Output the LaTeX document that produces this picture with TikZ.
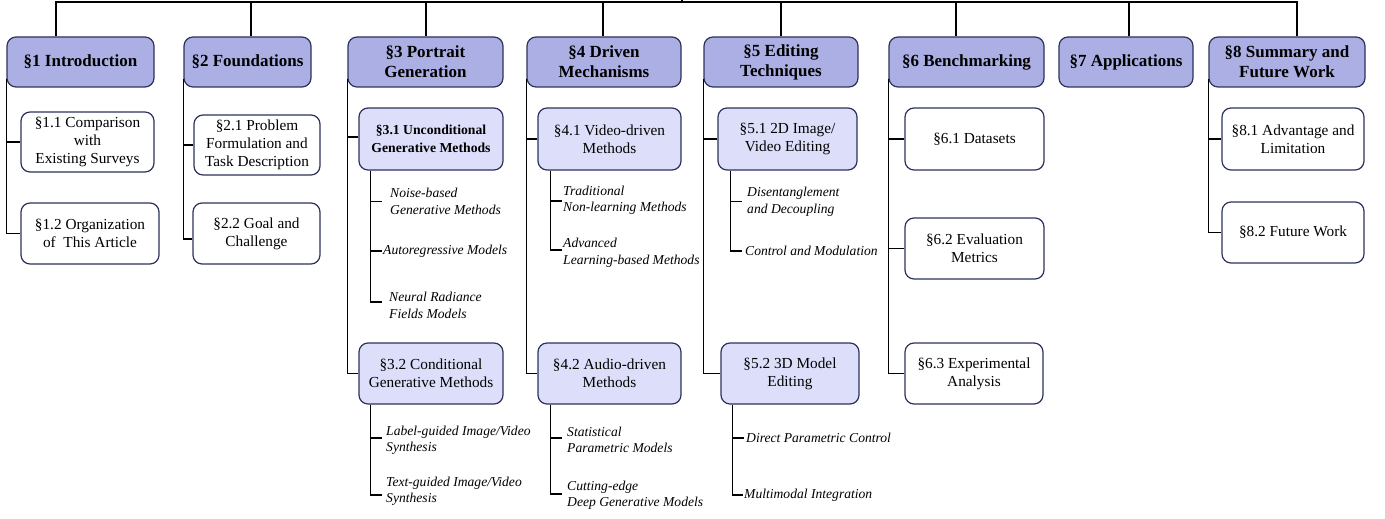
\documentclass[tikz,border=0pt]{standalone}
\usepackage{fontspec}
\setmainfont{Liberation Serif}
\definecolor{bord}{RGB}{44,50,92}
\definecolor{lvone}{RGB}{171,175,227}
\definecolor{lvtwo}{RGB}{221,223,250}
\begin{document}
\begin{tikzpicture}[x=1pt,y=-1pt,
  box/.style={draw=bord, line width=1.2pt, rounded corners=9pt, align=center, inner sep=0pt},
  secbox/.style={box, fill=lvone, font=\fontsize{17}{20}\selectfont\bfseries},
  subbox/.style={box, fill=lvtwo, font=\fontsize{15.3}{18}\selectfont},
  subboldbox/.style={box, fill=lvtwo, font=\fontsize{13.7}{18}\selectfont\bfseries},
  plainbox/.style={box, fill=white, font=\fontsize{15.3}{18}\selectfont},
  leaf/.style={anchor=west, align=left, inner ysep=0pt, font=\fontsize{13.6}{16.5}\selectfont\itshape},
  link/.style={line width=1.3pt, black}]
\useasboundingbox (0,0) rectangle (1385,519);

% level 1
\node[secbox, minimum width=147pt, minimum height=50pt] (s1) at (80.5,62) {§1 Introduction};
\node[secbox, minimum width=127pt, minimum height=50pt] (s2) at (247.5,62) {§2 Foundations};
\node[secbox, minimum width=155pt, minimum height=50pt] (s3) at (425.5,62) {§3 Portrait\\Generation};
\node[secbox, minimum width=154pt, minimum height=50pt] (s4) at (604,62) {§4 Driven\\Mechanisms};
\node[secbox, minimum width=154pt, minimum height=50pt] (s5) at (781,62) {§5 Editing\\Techniques};
\node[secbox, minimum width=155pt, minimum height=50pt] (s6) at (966.5,62) {§6 Benchmarking};
\node[secbox, minimum width=134pt, minimum height=50pt] (s7) at (1126,62) {§7 Applications};
\node[secbox, minimum width=156pt, minimum height=50pt] (s8) at (1287,62) {§8 Summary and\\Future Work};

% top bar
\coordinate (root) at (682,0);
\coordinate (barM) at (682,2);
\coordinate (barL) at (56,2);
\coordinate (barR) at (1297,2);
\draw[link] (root) -- (barM);
\draw[link, line cap=rect] (barL) -- (barR);
\foreach \n/\dx in {s1/-24.5, s2/3.5, s3/0.5, s4/-1, s5/0, s6/-10.5, s7/3, s8/10}
  \draw[link] ([xshift=\dx pt]\n.north) -- ([xshift=\dx pt]\n.north |- barL);

% level 2
\node[plainbox, minimum width=133pt, minimum height=60pt] (p11) at (87.5,142) {§1.1 Comparison\\with\\Existing Surveys};
\node[plainbox, minimum width=138pt, minimum height=61pt] (p12) at (90,233.5) {§1.2 Organization\\of\ \ This Article};
\node[plainbox, minimum width=126pt, minimum height=60pt] (p21) at (257,145) {§2.1 Problem\\Formulation and\\Task Description};
\node[plainbox, minimum width=127pt, minimum height=61pt] (p22) at (256.5,233.5) {§2.2 Goal and\\Challenge};
\node[subboldbox, minimum width=144pt, minimum height=62pt] (p31) at (431,139) {§3.1 Unconditional\\Generative Methods};
\node[subbox, minimum width=144pt, minimum height=61pt] (p32) at (431,373.5) {§3.2 Conditional\\Generative Methods};
\node[subbox, minimum width=143pt, minimum height=62pt] (p41) at (609.5,139) {§4.1 Video-driven\\Methods};
\node[subbox, minimum width=143pt, minimum height=61pt] (p42) at (609.5,373.5) {§4.2 Audio-driven\\Methods};
\node[subbox, minimum width=139pt, minimum height=62pt] (p51) at (787.5,139) {§5.1 2D Image/\\Video Editing};
\node[subbox, minimum width=138pt, minimum height=61pt] (p52) at (790,373.5) {§5.2 3D Model\\Editing};
\node[plainbox, minimum width=139pt, minimum height=62pt] (p61) at (974.5,139) {§6.1 Datasets};
\node[plainbox, minimum width=139pt, minimum height=61pt] (p62) at (974.5,248.5) {§6.2 Evaluation\\Metrics};
\node[plainbox, minimum width=138pt, minimum height=61pt] (p63) at (974,373.5) {§6.3 Experimental\\Analysis};
\node[plainbox, minimum width=142pt, minimum height=62pt] (p81) at (1293,139) {§8.1 Advantage and\\Limitation};
\node[plainbox, minimum width=142pt, minimum height=61pt] (p82) at (1293,232.5) {§8.2 Future Work};

% level-1 to level-2 connectors
\draw[link] ([yshift=9pt]s1.south west) |- (p11.west);
\draw[link] ([yshift=9pt]s1.south west) |- (p12.west);
\draw[link] ([yshift=9pt]s2.south west) |- (p21.west);
\draw[link] ([yshift=9pt]s2.south west) |- ([yshift=-5.5pt]p22.west);
\draw[link] ([yshift=9pt]s3.south west) |- ([yshift=2pt]p31.west);
\draw[link] ([yshift=9pt]s3.south west) |- (p32.west);
\draw[link] ([yshift=9pt]s4.south west) |- (p41.west);
\draw[link] ([yshift=9pt]s4.south west) |- (p42.west);
\draw[link] ([yshift=9pt]s5.south west) |- (p51.west);
\draw[link] ([yshift=9pt]s5.south west) |- (p52.west);
\draw[link] ([yshift=9pt]s6.south west) |- (p61.west);
\draw[link] ([yshift=9pt]s6.south west) |- (p62.west);
\draw[link] ([yshift=9pt]s6.south west) |- (p63.west);
\draw[link] ([yshift=9pt]s8.south west) |- (p81.west);
\draw[link] ([yshift=9pt]s8.south west) |- (p82.west);

% leaves
\node[leaf, inner xsep=8pt] (l311) at (382,201.5) {Noise-based\\Generative Methods};
\node[leaf, inner xsep=1pt] (l312) at (382,251) {Autoregressive Models};
\node[leaf, inner xsep=7pt] (l313) at (382,305.5) {Neural Radiance\\Fields Models};
\node[leaf, inner xsep=4pt] (l321) at (382,440) {Label-guided Image/Video\\Synthesis};
\node[leaf, inner xsep=4pt] (l322) at (382,491) {Text-guided Image/Video\\Synthesis};
\node[leaf, inner xsep=1pt] (l411) at (562,200) {Traditional\\Non-learning Methods};
\node[leaf, inner xsep=1pt] (l412) at (562,252.5) {Advanced\\Learning-based Methods};
\node[leaf, inner xsep=5pt] (l421) at (562,440) {Statistical\\Parametric Models};
\node[leaf, inner xsep=5pt] (l422) at (562,495) {Cutting-edge\\Deep Generative Models};
\node[leaf, inner xsep=5pt] (l511) at (742,201.5) {Disentanglement\\and Decoupling};
\node[leaf, inner xsep=3pt] (l512) at (742,251) {Control and Modulation};
\node[leaf, inner xsep=2pt] (l521) at (744,438) {Direct Parametric Control};
\node[leaf, inner xsep=1pt] (l522) at (743,495) {Multimodal Integration};

\draw[link] ([xshift=12pt]p31.south west) |- (l311.west);
\draw[link] ([xshift=12pt]p31.south west) |- (l312.west);
\draw[link] ([xshift=12pt]p31.south west) |- ([yshift=3.5pt]l313.west);
\draw[link] ([xshift=12pt]p32.south west) |- ([yshift=2pt]l321.west);
\draw[link] ([xshift=12pt]p32.south west) |- ([yshift=-4pt]l322.west);
\draw[link] ([xshift=13pt]p41.south west) |- ([yshift=-1pt]l411.west);
\draw[link] ([xshift=13pt]p41.south west) |- ([yshift=2.5pt]l412.west);
\draw[link] ([xshift=13pt]p42.south west) |- ([yshift=2pt]l421.west);
\draw[link] ([xshift=13pt]p42.south west) |- ([yshift=1pt]l422.west);
\draw[link] ([xshift=13pt]p51.south west) |- (l511.west);
\draw[link] ([xshift=13pt]p51.south west) |- (l512.west);
\draw[link] ([xshift=12pt]p52.south west) |- (l521.west);
\draw[link] ([xshift=12pt]p52.south west) |- (l522.west);
\end{tikzpicture}
\end{document}
